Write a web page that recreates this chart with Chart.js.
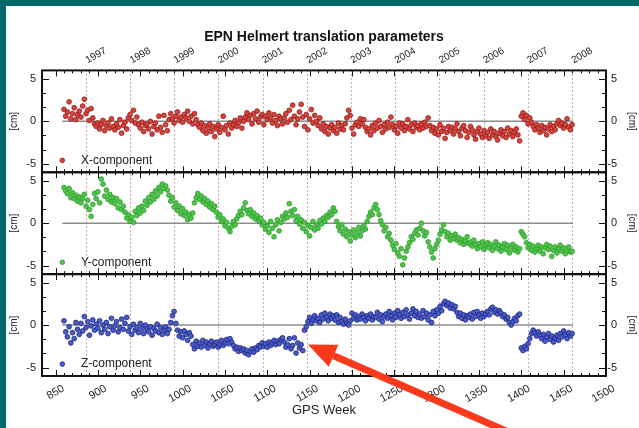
<!DOCTYPE html>
<html>
<head>
<meta charset="utf-8">
<script src="https://cdn.jsdelivr.net/npm/chart.js@4"></script>
<style>
html, body { margin: 0; padding: 0; background: #00696b; width: 639px; height: 428px; overflow: hidden; }
#wrap { position: absolute; left: 6px; top: 6px; width: 633px; height: 422px; background: #fff; }
</style>
</head>
<body>
<div id="wrap"><canvas id="c" width="633" height="422"></canvas></div>
<script>
// weekly solutions, one value every 2 GPS weeks starting at week 860 [cm]
const startWeek = 860;
const weekStep = 2;

const xComponent = [
  1.4, 0.6, 1.1, 2.3, 0.3, 0.9, 1.6, 0.2, 0.8, 1.2,
  0.5, 1.8, 2.6, 0.9, 1.3, 0.1, 1.5, 0.4, -0.3, -0.6,
  -0.2, -0.9, -0.4, 0.1, -1.1, -0.5, -0.2, -0.8, 0.3, -0.6,
  -1.0, -0.3, -0.7, 0.2, -1.4, -0.5, -0.1, -0.9, 0.4, 0.8,
  0.1, 1.3, -0.2, 0.5, -0.4, -0.8, -0.1, -1.2, -0.5, -0.3,
  -0.9, 0.0, -1.5, -0.6, -0.2, -1.0, 0.6, -0.7, -1.3, 0.7,
  -0.4, -1.1, 0.2, 0.9, 0.3, -0.2, 0.6, 1.1, 0.1, 0.5,
  -0.1, 0.8, 0.4, 1.2, 0.0, 0.6, -0.3, 0.9, 0.2, -0.4,
  -0.7, -0.2, -1.1, -0.5, -1.4, -0.8, -0.3, -1.2, -0.6, -1.8,
  -0.9, -0.4, -1.3, -0.7, 0.6, -1.0, -0.5, -1.5, -0.2, -0.8,
  -0.4, 0.1, -0.6, -0.2, 0.4, -0.8, 0.0, 0.5, 1.0, 0.2,
  0.7, -0.3, 0.9, 0.3, 1.2, -0.1, 0.5, 0.8, -0.4, 0.6,
  0.2, 1.0, 0.4, -0.2, 0.8, 0.1, -0.5, 0.6, 0.3, -0.3,
  0.4, 0.9, -0.1, 1.3, 0.2, 1.9, 0.6, -0.4, 0.3, 1.1,
  2.0, 0.5, -0.6, 0.8, -1.0, 0.3, 1.4, -0.2, 0.7, 0.0,
  -0.5, 0.4, -0.9, -0.3, -1.2, -0.6, -1.5, -0.8, -0.4, -1.1,
  -0.7, -1.4, -0.2, -0.9, -0.5, -1.0, -0.3, 0.4, 1.3, 0.7,
  -0.8, -1.5, -0.4, -0.1, -0.6, 0.3, -0.3, 0.2, -0.7, -1.2,
  -0.9, -1.6, -0.5, -1.1, -0.2, -0.8, 0.1, -0.6, -1.3, -0.4,
  -0.9, -0.1, -0.7, 0.5, -0.4, -1.0, -0.6, -1.4, -0.2, -0.8,
  -0.3, -1.1, -0.6, 0.2, -0.9, -0.4, -1.2, -0.2, -0.7, -0.5,
  -1.0, -0.3, -0.8, -0.1, -0.6, 0.4, -0.5, -1.1, -0.7, -1.4,
  -0.9, -1.6, -0.4, -1.2, -0.8, -2.0, -1.3, -0.6, -1.1, -0.7,
  -1.5, -0.9, -0.3, -1.2, -1.7, -0.8, -0.5, -1.1, -1.9, -1.3,
  -0.6, -1.0, -1.6, -2.1, -1.2, -0.8, -1.5, -1.9, -1.1, -1.7,
  -1.3, -2.0, -0.9, -1.6, -1.2, -1.8, -2.2, -1.4, -1.0, -1.7,
  -1.2, -1.9, -0.8, -1.5, -1.1, -1.8, -1.3, -0.9, -1.6, -2.3,
  0.6, 1.0, 0.2, 0.7, -0.3, 0.4, -0.1, -0.6, -1.0, -0.4,
  -0.8, -1.3, -0.5, -1.1, -0.7, -1.6, -0.9, -0.4, -1.2, -0.6,
  -1.0, -0.3, 0.1, -0.5, -0.2, -0.8, -0.4, 0.3, -0.7, -1.0,
  -0.4
];

const yComponent = [
  4.2, 3.8, 3.5, 4.1, 3.0, 3.6, 2.9, 3.3, 2.6, 3.1,
  2.4, 2.9, 3.4, 2.0, 2.7, 1.6, 0.8, 2.2, 3.5, 2.9,
  3.7, 2.4, 5.2, 4.6, 3.2, 3.9, 2.8, 3.4, 2.5, 3.0,
  2.3, 2.9, 1.8, 2.5, 1.6, 2.0, 1.3, 0.6, 1.0, 0.2,
  0.7, 0.1, 1.4, 0.9, 1.8, 1.2, 2.0, 1.5, 2.6, 2.1,
  3.0, 2.5, 3.4, 2.8, 3.8, 3.2, 4.2, 3.7, 4.6, 4.1,
  4.4, 3.9, 3.3, 2.6, 3.0, 1.9, 2.4, 1.5, 2.0, 1.1,
  1.7, 0.9, 1.3, 0.4, 1.0, 0.6, 1.2, 2.4, 3.0, 3.5,
  2.8, 3.2, 2.5, 2.9, 2.2, 2.6, 1.9, 2.3, 1.6, 2.0,
  1.3, 0.7, 1.0, 0.2, 0.5, -0.3, 0.1, -0.6, -1.0, -0.4,
  0.2, -0.2, 0.5, 0.9, 1.4, 1.0, 1.8, 2.4, 1.5, 1.1,
  1.6, 0.8, 1.2, 0.5, 0.9, 0.3, 0.6, -0.2, 0.1, -0.7,
  -0.3, -1.1, 0.2, -0.6, -1.6, -0.2, 0.4, -0.9, 0.1, 0.8,
  0.5, 1.2, 0.7, 2.3, 1.4, 0.9, 1.6, 0.3, 0.8, -0.1,
  0.4, -0.6, 0.1, -1.0, -0.3, -1.5, -0.5, 0.2, -0.8, -0.2,
  -0.6, 0.3, -0.1, 0.6, 0.2, 0.9, 0.7, 1.3, 1.0, 1.8,
  1.4, 0.2, -0.4, -0.9, -0.2, -1.3, -0.7, -1.6, -1.0, -2.1,
  -1.4, -0.8, -1.7, -1.1, -0.5, -1.5, -0.9, -0.3, -0.7, 0.2,
  0.8, 1.3, 1.0, 1.8, 2.2, 1.6, 1.0, 0.3, -0.2, -0.9,
  -0.5, -1.6, -1.2, -2.0, -2.6, -3.1, -2.4, -3.5, -3.9, -3.0,
  -4.9, -4.1, -3.3, -2.8, -2.3, -1.6, -1.9, -1.2, -0.8, -1.4,
  -0.6, 0.0, -0.9, -1.5, -1.1, -2.2, -2.8, -3.4, -4.1, -3.0,
  -2.5, -2.0, -1.3, -0.8, -0.2, -1.0, -1.6, -1.2, -2.0, -1.5,
  -1.8, -1.3, -2.0, -1.7, -2.3, -1.9, -2.5, -2.1, -1.6, -2.4,
  -2.2, -2.7, -2.0, -2.5, -3.0, -2.4, -2.8, -2.2, -3.1, -2.6,
  -2.3, -2.9, -2.5, -3.2, -2.7, -2.2, -3.0, -2.6, -3.3, -2.8,
  -2.4, -3.1, -2.6, -3.5, -2.9, -2.5, -3.2, -2.8, -3.4, -3.0,
  -1.0, -1.3, -1.6, -2.3, -2.9, -2.5, -3.2, -2.7, -3.4, -3.0,
  -2.6, -3.3, -2.8, -3.6, -2.9, -2.5, -3.1, -2.7, -3.9, -3.2,
  -2.8, -3.5, -3.0, -2.6, -3.3, -2.9, -3.6, -3.1, -2.8, -3.4,
  -3.3
];

const zComponent = [
  0.5, -0.8, -1.4, -0.2, -2.1, -0.9, -1.6, 0.3, -0.5, -1.1,
  0.2, -0.7, 1.0, -0.3, 0.4, -1.2, -0.1, 0.6, -0.6, 0.1,
  -0.4, 0.5, -0.9, 0.0, -0.5, 0.3, -1.0, -0.2, 0.8, -0.6,
  -0.1, 0.4, -0.8, -0.3, 0.7, -0.5, 0.2, 0.9, -0.7, -0.2,
  -1.1, 0.1, -0.6, -0.3, -0.9, 0.2, -0.4, -1.0, 0.0, -0.5,
  -0.8, -0.2, -1.2, -0.4, -0.7, 0.1, -0.9, -0.3, -1.1, -0.6,
  -0.2, -1.0, -0.5, 0.3, 1.1, 1.6, 0.2, -0.6, -1.3, -0.8,
  -1.5, -0.7, -1.1, -1.8, -0.9, -1.3, -2.3, -2.8, -1.9, -2.5,
  -2.1, -2.6, -1.8, -2.4, -2.0, -2.7, -2.2, -1.9, -2.5, -2.3,
  -2.0, -2.6, -2.3, -1.8, -2.4, -2.1, -1.7, -2.2, -1.6, -2.0,
  -2.4, -2.8, -2.6, -3.1, -2.7, -3.0, -2.8, -3.3, -3.0, -3.5,
  -3.1, -2.8, -3.2, -2.7, -2.9, -2.4, -2.6, -2.1, -2.5, -2.2,
  -2.6, -2.0, -2.4, -2.1, -1.8, -2.3, -1.9, -2.2, -1.7, -1.5,
  -2.0, -2.6, -2.3, -1.6, -2.8, -2.4, -1.5, -3.3, -2.1, -2.7,
  -2.3, -3.0, -0.6, -0.2, 0.4, 0.9, 0.2, 0.6, 1.1, 0.5,
  0.8, 0.3, 1.2, 0.7, 1.4, 0.9, 0.5, 1.3, 0.8, 1.1,
  0.6, 1.2, 0.3, 0.9, 0.4, 0.1, 0.7, 0.2, 0.0, 0.5,
  1.4, 0.8, 1.2, 0.6, 1.0, 0.7, 1.3, 0.9, 0.5, 1.1,
  0.8, 1.3, 0.6, 1.0, 0.9, 1.5, 0.7, 1.2, 0.4, 1.0,
  1.3, 0.8, 1.6, 1.1, 0.6, 1.4, 0.9, 1.7, 1.2, 0.8,
  1.5, 1.0, 1.8, 1.2, 0.7, 1.4, 1.9, 1.1, 1.6, 0.9,
  1.3, 0.8, 1.7, 1.0, 1.4, 0.6, 1.2, 0.3, 1.6, 1.1,
  1.8, 1.4, 2.2, 1.7, 2.5, 2.8, 2.3, 2.6, 2.0, 2.4,
  1.9, 2.2, 1.5, 1.0, 1.4, 0.8, 1.2, 0.6, 1.1, 0.9,
  1.3, 0.7, 1.5, 1.0, 1.6, 1.2, 0.8, 1.4, 1.0, 1.3,
  1.6, 1.2, 1.9, 2.1, 1.5, 1.8, 1.3, 1.7, 1.4, 1.0,
  1.2, 0.7, 0.9, 0.3, 0.0, 0.4, 0.8, 0.5, 1.1, 1.3,
  -2.7, -3.0, -2.5, -2.8, -2.2, -1.6, -1.0, -0.6, -0.9, -1.3,
  -0.8, -1.2, -1.6, -1.1, -1.9, -1.4, -1.0, -1.7, -1.3, -2.0,
  -1.5, -1.2, -1.8, -1.0, -1.4, -0.7, -1.1, -1.6, -0.9, -1.3,
  -1.0
];

const gpsWeekTicks = [850, 900, 950, 1000, 1050, 1100, 1150, 1200, 1250, 1300, 1350, 1400, 1450, 1500];
const yearLabels = ['1997', '1998', '1999', '2000', '2001', '2002', '2003', '2004', '2005', '2006', '2007', '2008'];
const yearStartWeeks = [886.4, 938.6, 990.7, 1042.9, 1095.1, 1147.3, 1199.4, 1251.6, 1303.9, 1356.0, 1408.1, 1460.3];
const cmTicks = [-5, 0, 5];
const zeroLineWeeks = [858, 1461];

const panels = [
  { id: 'yX', right: 'rX', label: 'X-component', values: xComponent, fill: '#d9433b', edge: '#8e1b18' },
  { id: 'yY', right: 'rY', label: 'Y-component', values: yComponent, fill: '#4ec44a', edge: '#2f9c2d' },
  { id: 'yZ', right: 'rZ', label: 'Z-component', values: zComponent, fill: '#4a5cc8', edge: '#1c2580' }
];

Chart.defaults.font.family = "'Liberation Sans', Arial, sans-serif";
Chart.defaults.color = '#222';

function toPoints(values) {
  return values.map((v, i) => ({ x: startWeek + i * weekStep, y: v }));
}

const datasets = [];
panels.forEach((p) => {
  datasets.push({
    type: 'scatter',
    label: p.label,
    data: toPoints(p.values),
    xAxisID: 'x',
    yAxisID: p.id,
    backgroundColor: p.fill,
    borderColor: p.edge,
    borderWidth: 0.8,
    pointRadius: 2.4,
    order: 1
  });
  datasets.push({
    type: 'line',
    label: 'zero',
    data: zeroLineWeeks.map((w) => ({ x: w, y: 0 })),
    xAxisID: 'x',
    yAxisID: p.id,
    borderColor: '#8c8c8c',
    borderWidth: 1.5,
    pointRadius: 0,
    order: 2
  });
});

function leftAxis() {
  return {
    type: 'linear', position: 'left', stack: 'left', stackWeight: 1,
    min: -6, max: 6,
    afterBuildTicks: (s) => { s.ticks = cmTicks.map((v) => ({ value: v })); },
    afterFit: (s) => { s.width = 36; },
    grid: { display: false, drawTicks: false },
    border: { display: false },
    ticks: { padding: 6, font: { size: 11 } },
    title: { display: true, text: '[cm]', font: { size: 10 }, padding: { top: 2, bottom: 0 } }
  };
}
function rightAxis() {
  // narrow box: labels right-aligned at its edge, title pushed outside it
  return {
    type: 'linear', position: 'right', stack: 'right', stackWeight: 1,
    min: -6, max: 6,
    afterBuildTicks: (s) => { s.ticks = cmTicks.map((v) => ({ value: v })); },
    afterFit: (s) => { s.width = 11; },
    grid: { display: false, drawTicks: false },
    border: { display: false },
    ticks: { padding: 1, crossAlign: 'far', font: { size: 11 } },
    title: { display: true, text: '[cm]', font: { size: 10 }, padding: { top: -21, bottom: 0 } }
  };
}

const scales = {
  x: {
    type: 'linear', position: 'bottom', min: 834, max: 1500,
    afterBuildTicks: (s) => { s.ticks = gpsWeekTicks.map((v) => ({ value: v })); },
    afterFit: (s) => { s.height = 52; },
    grid: { display: false, drawTicks: false },
    border: { display: false },
    ticks: { minRotation: 30, maxRotation: 30, autoSkip: false, padding: 6, labelOffset: 8,
      font: { size: 11 }, callback: (v) => String(v) },
    title: { display: true, text: 'GPS Week', font: { size: 13 }, padding: { top: 0, bottom: 10 } }
  },
  xTop: {
    type: 'linear', position: 'top', min: 834, max: 1500,
    afterBuildTicks: (s) => { s.ticks = yearStartWeeks.map((v) => ({ value: v })); },
    afterFit: (s) => { s.height = 24.6; },
    grid: { display: true, drawOnChartArea: true, drawTicks: false, color: '#dba0a8', lineWidth: 1 },
    border: { display: false, dash: [2, 2] },
    ticks: { minRotation: 30, maxRotation: 30, autoSkip: false, padding: 4, labelOffset: 6,
      font: { size: 10 }, callback: (v, i) => yearLabels[i] }
  }
};
// left stacked axes are placed last-defined on top
panels.slice().reverse().forEach((p) => { scales[p.id] = leftAxis(); });
panels.forEach((p) => { scales[p.right] = rightAxis(); });

function seg(ctx, x1, y1, x2, y2) {
  ctx.beginPath();
  ctx.moveTo(x1, y1);
  ctx.lineTo(x2, y2);
  ctx.stroke();
}

const panelFrames = {
  id: 'panelFrames',
  afterDatasetsDraw(chart) {
    const ctx = chart.ctx;
    const x = chart.scales.x;
    ctx.save();
    panels.forEach((p) => {
      const y = chart.scales[p.id];
      const top = y.top, bottom = y.bottom, left = x.left, right = x.right;
      ctx.strokeStyle = '#111';
      ctx.lineWidth = 1;
      for (let w = 850; w <= 1500; w += 10) {
        const px = Math.round(x.getPixelForValue(w)) + 0.5;
        const len = w % 50 === 0 ? 6 : 3;
        seg(ctx, px, bottom, px, bottom - len);
        seg(ctx, px, top, px, top + len);
      }
      [-10 / 3, -5 / 3, 5 / 3, 10 / 3, -5, 0, 5].forEach((v) => {
        const py = Math.round(y.getPixelForValue(v)) + 0.5;
        const len = cmTicks.includes(v) ? 7 : 4;
        seg(ctx, left, py, left + len, py);
        seg(ctx, right, py, right - len, py);
      });
      ctx.lineWidth = 2;
      ctx.strokeRect(left, top, right - left, bottom - top);

      // legend entry inside each panel
      const lx = x.getPixelForValue(858);
      const ly = y.getPixelForValue(-4.6);
      ctx.fillStyle = p.fill;
      ctx.strokeStyle = p.edge;
      ctx.lineWidth = 0.8;
      ctx.beginPath();
      ctx.arc(lx, ly, 2.3, 0, Math.PI * 2);
      ctx.fill();
      ctx.stroke();
      ctx.fillStyle = '#222';
      ctx.font = "12px 'Liberation Sans', Arial, sans-serif";
      ctx.textBaseline = 'middle';
      ctx.textAlign = 'left';
      ctx.fillText(p.label, x.getPixelForValue(880), ly);
    });
    ctx.restore();
  },
  afterDraw(chart) {
    // red arrow pointing at the Z jump
    const ctx = chart.ctx;
    const tx = chart.scales.x.getPixelForValue(1148);
    const ty = chart.scales.yZ.getPixelForValue(-2.3);
    const ang = Math.atan2(85, 195);
    const ex = tx + Math.cos(ang) * 260, ey = ty + Math.sin(ang) * 260;
    const head = 28, hw = 12;
    const bx = tx + Math.cos(ang) * head, by = ty + Math.sin(ang) * head;
    ctx.save();
    ctx.strokeStyle = '#fb3a1b';
    ctx.fillStyle = '#fb3a1b';
    ctx.lineWidth = 7;
    seg(ctx, bx, by, ex, ey);
    ctx.beginPath();
    ctx.moveTo(tx, ty);
    ctx.lineTo(bx - Math.sin(ang) * hw, by + Math.cos(ang) * hw);
    ctx.lineTo(bx + Math.sin(ang) * hw, by - Math.cos(ang) * hw);
    ctx.closePath();
    ctx.fill();
    ctx.restore();
  }
};

new Chart(document.getElementById('c'), {
  data: { datasets },
  options: {
    responsive: false,
    animation: false,
    layout: { padding: { left: 0, top: 0, bottom: 0, right: 22 } },
    scales,
    plugins: {
      legend: { display: false },
      tooltip: { enabled: false },
      title: {
        display: true,
        fullSize: false,
        text: 'EPN Helmert translation parameters',
        font: { size: 14, weight: 'bold' },
        color: '#111',
        padding: { top: 23, bottom: 0 }
      }
    }
  },
  plugins: [panelFrames]
});
</script>
</body>
</html>
